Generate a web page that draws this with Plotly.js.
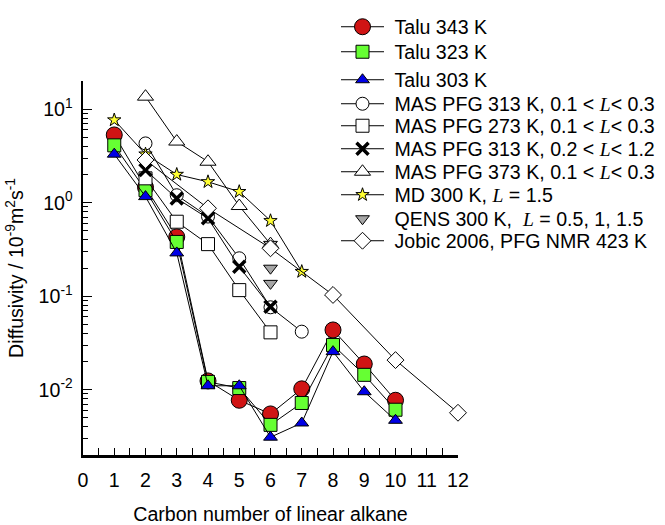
<!DOCTYPE html>
<html>
<head>
<meta charset="utf-8">
<script src="https://cdn.plot.ly/plotly-3.0.1.min.js"></script>
<style>html,body{margin:0;padding:0;background:#fff;}#chart{width:665px;height:525px;}</style>
</head>
<body>
<div id="chart"></div>
<script>
// ---- data ----
const taluX = [1, 2, 3, 4, 5, 6, 7, 8, 9, 10];
const talu343 = [5.3, 1.46, 0.43, 0.0124, 0.0077, 0.0055, 0.0102, 0.0435, 0.0188, 0.0077];
const talu323 = [4.1, 1.36, 0.38, 0.0121, 0.0104, 0.0042, 0.0072, 0.030, 0.0144, 0.0061];
const talu303 = [3.3, 1.16, 0.29, 0.0110, 0.0110, 0.0031, 0.0044, 0.0255, 0.0095, 0.0047];

const mas313X = [2, 3, 4, 5, 6, 7];
const mas313 = [4.3, 1.2, 0.71, 0.254, 0.076, 0.0417];
const mas273X = [2, 3, 4, 5, 6];
const mas273 = [1.82, 0.625, 0.36, 0.116, 0.041];
const mas313bX = [2, 3, 4, 5, 6];
const mas313b = [2.23, 1.11, 0.68, 0.206, 0.077];
const mas373X = [2, 3, 4, 5, 6];
const mas373 = [13.6, 4.5, 2.74, 0.92, 0.36];
const mdX = [1, 2, 3, 4, 5, 6, 7];
const md300 = [7.65, 3.3, 2.0, 1.67, 1.31, 0.64, 0.183];
const qensX = [6, 6, 6];
const qens300 = [0.358, 0.199, 0.137];
const jobicX = [2, 4, 6, 8, 10, 12];
const jobic423 = [2.86, 0.87, 0.325, 0.103, 0.0207, 0.00566];

const Lsym = "<span style=\"font-family:'Liberation Serif'\"><i>L</i></span>";
const names = [
  "Talu 343 K",
  "Talu 323 K",
  "Talu 303 K",
  "MAS PFG 313 K, 0.1 < " + Lsym + "< 0.3",
  "MAS PFG 273 K, 0.1 < " + Lsym + "< 0.3",
  "MAS PFG 313 K, 0.2 < " + Lsym + "< 1.2",
  "MAS PFG 373 K, 0.1 < " + Lsym + "< 0.3",
  "MD 300 K, " + Lsym + " = 1.5",
  "QENS 300 K,  " + Lsym + " = 0.5, 1, 1.5",
  "Jobic 2006, PFG NMR 423 K"
];

const yMajor = [0.01, 0.1, 1, 10];
const yMajorText = ["10<sup>-2</sup>", "10<sup>-1</sup>", "10<sup>0</sup>", "10<sup>1</sup>"];
const yMinor = [0.002,0.003,0.004,0.005,0.006,0.007,0.008,0.009,
                0.02,0.03,0.04,0.05,0.06,0.07,0.08,0.09,
                0.2,0.3,0.4,0.5,0.6,0.7,0.8,0.9,
                2,3,4,5,6,7,8,9,20];

// ---- styles ----
const lineStyle = {color: '#000', width: 1};
function tr(x, y, idx, marker, mode) {
  return {
    x: x, y: y, name: '\u00a0' + names[idx], type: 'scatter',
    mode: mode || 'lines+markers', line: lineStyle, marker: marker,
    cliponaxis: false, legend: idx === 0 ? 'legend' : 'legend' + (idx + 1)
  };
}
const edge = {color: '#000', width: 1};
const traces = [
  tr(taluX, talu343, 0, {symbol: 'circle', size: 16, color: '#d01414', line: edge}),
  tr(taluX, talu323, 1, {symbol: 'square', size: 13, color: '#66ff33', line: edge}),
  tr(taluX, talu303, 2, {symbol: 'triangle-up', size: 12, color: '#0000e6', line: edge}),
  tr(mas313X, mas313, 3, {symbol: 'circle', size: 13, color: '#fff', line: edge}),
  tr(mas273X, mas273, 4, {symbol: 'square', size: 13, color: '#fff', line: edge}),
  tr(mas313bX, mas313b, 5, {symbol: 'x-thin', size: 12, color: '#000', line: {color: '#000', width: 3.5}}),
  tr(mas373X, mas373, 6, {symbol: 'triangle-up', size: 14, color: '#fff', line: edge}),
  tr(mdX, md300, 7, {symbol: 'star', size: 10, color: '#ffff33', line: edge}),
  tr(qensX, qens300, 8, {symbol: 'triangle-down', size: 12, color: '#a6a6a6', line: edge}, 'markers'),
  tr(jobicX, jobic423, 9, {symbol: 'diamond', size: 13, color: '#fff', line: edge})
];

const F = "'Liberation Sans', Arial, sans-serif";
const FS = 19.6;
const legendYpx = [27, 52, 80, 104, 126, 149, 172, 195, 219, 241];
const plotTop = 81, plotBottom = 455, plotLeft = 83, plotRight = 458;
const layout = {
  width: 665, height: 525,
  margin: {l: plotLeft, r: 665 - plotRight, t: plotTop, b: 525 - plotBottom, pad: 0, autoexpand: false},
  paper_bgcolor: '#fff', plot_bgcolor: '#fff',
  font: {family: F, size: FS, color: '#000'},
  showlegend: true,
  xaxis: {
    range: [0, 12], showgrid: false, zeroline: false,
    showline: true, linecolor: '#000', linewidth: 2.5,
    tickmode: 'linear', tick0: 0, dtick: 1,
    ticks: 'inside', ticklen: 7, tickwidth: 1, tickcolor: '#000',
    minor: {tickmode: 'linear', tick0: 0, dtick: 0.5, ticks: 'inside', ticklen: 7, tickwidth: 1, tickcolor: '#000', showgrid: false},
    tickfont: {size: FS}, ticklabelstandoff: 6,
    title: {text: 'Carbon number of linear alkane', font: {size: FS}, standoff: 26},
    automargin: false
  },
  yaxis: {
    type: 'log', range: [Math.log10(0.002), Math.log10(20)],
    showgrid: false, zeroline: false,
    showline: true, linecolor: '#000', linewidth: 2.5,
    tickmode: 'array', tickvals: yMajor, ticktext: yMajorText,
    ticks: 'inside', ticklen: 9, tickwidth: 1, tickcolor: '#000',
    minor: {tickmode: 'array', tickvals: yMinor, ticks: 'inside', ticklen: 5, tickwidth: 1, tickcolor: '#000', showgrid: false},
    tickfont: {size: FS}, ticklabelstandoff: 4,
    title: {text: 'Diffusivity / 10<sup>-9</sup>m<sup>2</sup>s<sup>-1</sup>', font: {size: FS}, standoff: 10},
    automargin: false
  }
};
const plotH = plotBottom - plotTop, plotW = plotRight - plotLeft;
for (let i = 0; i < names.length; i++) {
  const key = i === 0 ? 'legend' : 'legend' + (i + 1);
  layout[key] = {
    x: (336 - plotLeft) / plotW, xanchor: 'left',
    y: (plotBottom - legendYpx[i]) / plotH, yanchor: 'middle',
    bgcolor: 'rgba(0,0,0,0)', borderwidth: 0,
    font: {family: F, size: FS, color: '#000'},
    itemwidth: 43, itemclick: false
  };
}
Plotly.newPlot('chart', traces, layout, {staticPlot: true});
</script>
</body>
</html>
